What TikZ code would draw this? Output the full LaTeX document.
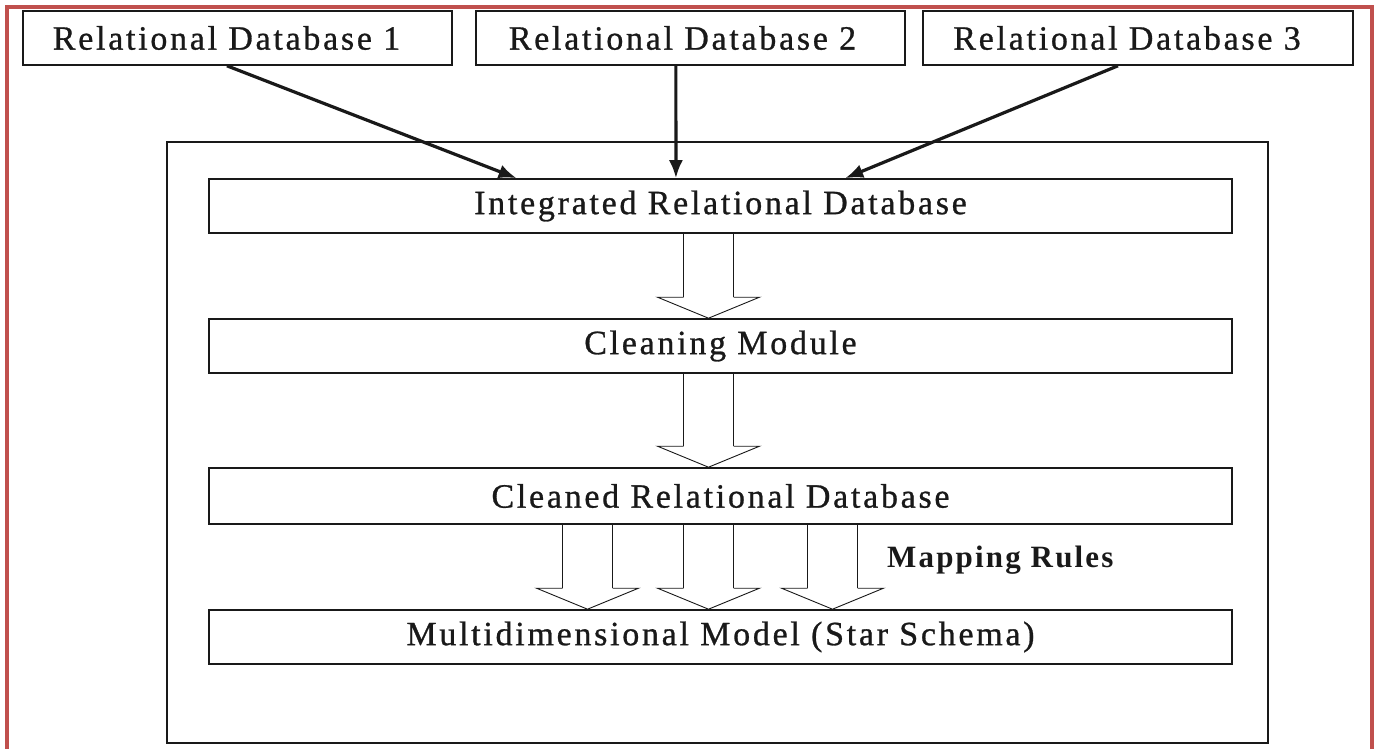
\documentclass[tikz,border=0pt]{standalone}
\usepackage{fontspec}
\setmainfont{Liberation Serif}
\newfontfamily\lblfont[LetterSpace=8,FakeBold=0.8]{Liberation Serif}
\newfontfamily\mapfont[LetterSpace=7,BoldFont={Liberation Serif Bold}]{Liberation Serif}
\usetikzlibrary{arrows.meta,calc}
\definecolor{frame}{RGB}{192,80,77}
\definecolor{ink}{RGB}{25,25,25}
\tikzset{
  box/.style={draw=ink, line width=1.6pt, inner sep=0pt, minimum height=54pt,
    font=\lblfont\fontsize{34}{38}\selectfont, text=ink},
  topbox/.style={box, minimum width=429pt},
  midbox/.style={box, minimum width=1023pt},
  feed/.style={draw=ink, line width=3.2pt, -{Latex[length=18pt,width=14pt]}},
  shaft/.style={draw=ink, line width=1.5pt},
  head/.style={draw=ink, line width=0.9pt},
}
\newcommand\blkarrow[3]{%
  \path[shaft] let \p1=(#1), \p2=(#2) in
    (\x1+#3pt-25pt,\y1) -- (\x1+#3pt-25pt,\y2+21pt)
    (\x1+#3pt+25pt,\y1) -- (\x1+#3pt+25pt,\y2+21pt);
  \path[head] let \p1=(#1), \p2=(#2) in
    (\x1+#3pt-25pt,\y2+21pt) -- (\x1+#3pt-51pt,\y2+21pt) -- (\x1+#3pt,\y2)
    -- (\x1+#3pt+51pt,\y2+21pt) -- (\x1+#3pt+25pt,\y2+21pt);
}
\begin{document}
\begin{tikzpicture}[x=1pt,y=-1pt]
\useasboundingbox (0,0) rectangle (1377,749);
\clip (0,0) rectangle (1377,749);
\fill[white] (0,0) rectangle (1377,749);
% red page frame
\draw[frame, line width=4pt] (7,7.5) rectangle (1372,780);
% outer box
\node (outer) [draw=ink, line width=1.6pt, minimum width=1101pt, minimum height=601pt, inner sep=0pt] at (717.5,442.5) {};
% top sources
\node (r1) [topbox] at (237.5,38) {\hspace*{-22pt}Relational Database 1};
\node (r2) [topbox] at (690.5,38) {\hspace*{-16pt}Relational Database 2};
\node (r3) [topbox, minimum width=430pt] at (1138,38) {\hspace*{-22pt}Relational Database 3};
% stages
\node (int) [midbox] at (720.5,206) {Integrated Relational Database};
\node (cln) [midbox] at (720.5,346) {Cleaning Module};
\node (cld) [midbox, minimum height=56pt] at (720.5,496) {Cleaned Relational Database};
\node (mdm) [midbox] at (720.5,637) {Multidimensional Model (Star Schema)};
% label
\node (map) [anchor=base west, inner sep=0pt, text=ink, font=\mapfont\bfseries\fontsize{31}{34}\selectfont] at (887,567) {Mapping Rules};
% feed arrows
\draw[feed] ($(r1.south west)!0.4755!(r1.south east)$) -- ($(int.north west)!0.301!(int.north east)$);
\draw[feed] ($(r2.south west)!0.466!(r2.south east)$) -- ($(int.north west)!0.4565!(int.north east)$);
\draw[feed] ($(r3.south west)!0.4535!(r3.south east)$) -- ($(int.north west)!0.6217!(int.north east)$);
% block arrows
\blkarrow{int.south}{cln.north}{-12}
\blkarrow{cln.south}{cld.north}{-12}
\blkarrow{cld.south}{mdm.north}{-133}
\blkarrow{cld.south}{mdm.north}{-12}
\blkarrow{cld.south}{mdm.north}{112}
\end{tikzpicture}
\end{document}
